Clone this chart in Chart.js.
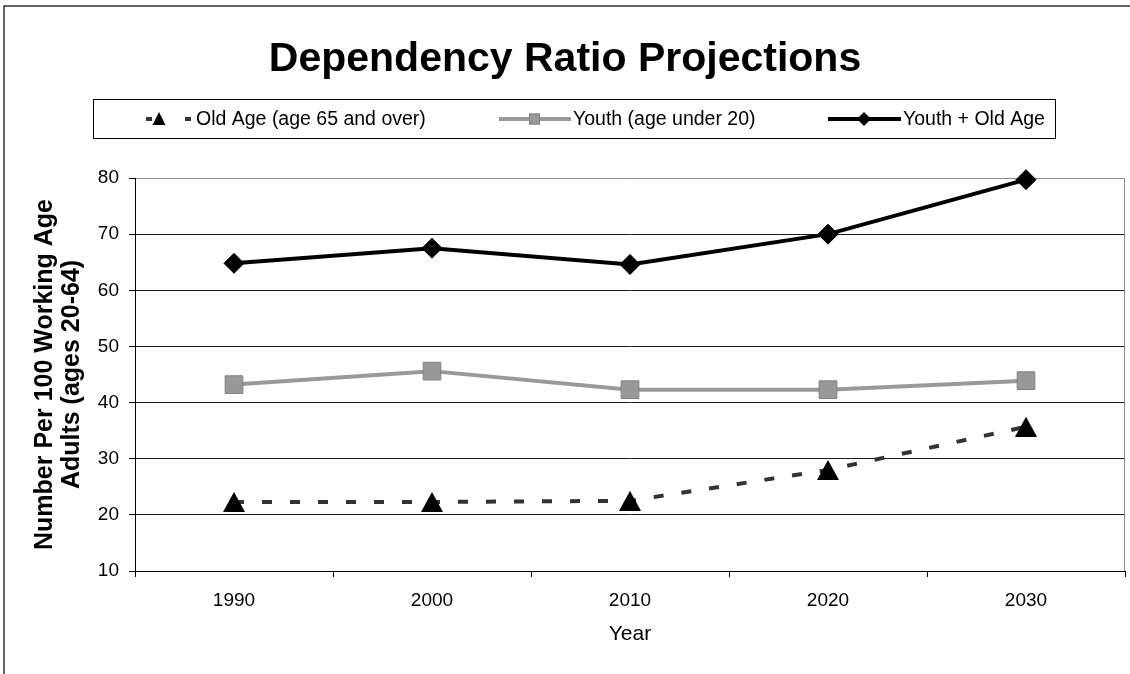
<!DOCTYPE html>
<html>
<head>
<meta charset="utf-8">
<script src="https://cdn.jsdelivr.net/npm/chart.js@4"></script>
<style>
  html, body { margin: 0; padding: 0; background: #fff; }
  #wrap { width: 1130px; height: 674px; }
</style>
</head>
<body>
<div id="wrap"><canvas id="chart" width="1130" height="674"></canvas></div>
<script>
// Dependency ratios per 100 working-age adults (ages 20-64)
const years = ['1990', '2000', '2010', '2020', '2030'];
const oldAge = [22.3, 22.3, 22.5, 28.0, 35.7];
const youth = [43.2, 45.6, 42.3, 42.3, 43.9];
const youthPlusOld = [64.8, 67.5, 64.6, 70.0, 79.7];
const seriesNames = ['Old Age (age 65 and over)', 'Youth (age under 20)', 'Youth + Old Age'];
const yMin = 10, yMax = 80, yStep = 10;

const FONT = '"Liberation Sans", Arial, Helvetica, sans-serif';

// Triangle marker centred on its bounding box
function triangleMarker(w, h, color) {
  const c = document.createElement('canvas');
  c.width = w; c.height = h;
  const g = c.getContext('2d');
  g.fillStyle = color;
  g.beginPath();
  g.moveTo(w / 2, 0);
  g.lineTo(w, h);
  g.lineTo(0, h);
  g.closePath();
  g.fill();
  return c;
}

// Frame, plot-area border and the boxed key
const decorations = {
  id: 'decorations',
  beforeDraw(chart) {
    const ctx = chart.ctx;
    ctx.save();
    ctx.fillStyle = '#fff';
    ctx.fillRect(0, 0, chart.width, chart.height);
    ctx.restore();
  },
  beforeDatasetsDraw(chart) {
    const { ctx, chartArea: a } = chart;
    ctx.save();
    ctx.strokeStyle = '#8c8c8c';
    ctx.lineWidth = 1;
    ctx.beginPath();
    ctx.moveTo(Math.round(a.right) - 0.5, a.top);
    ctx.lineTo(Math.round(a.right) - 0.5, a.bottom);
    ctx.stroke();
    ctx.restore();
  },
  afterDraw(chart) {
    const ctx = chart.ctx;
    ctx.save();
    // outer frame
    ctx.strokeStyle = '#333';
    ctx.lineWidth = 1.5;
    ctx.strokeRect(4, 6, chart.width + 20, chart.height + 20);

    // key box
    ctx.lineWidth = 1;
    ctx.strokeStyle = '#000';
    ctx.strokeRect(93.5, 99.5, 962, 39);

    const cy = 119;
    ctx.font = '19.5px ' + FONT;
    ctx.fillStyle = '#000';
    ctx.textBaseline = 'middle';
    ctx.textAlign = 'left';

    // Old Age: dashed dark line with triangle
    ctx.strokeStyle = '#333';
    ctx.lineWidth = 4;
    ctx.setLineDash([6, 33]);
    ctx.beginPath();
    ctx.moveTo(146, cy); ctx.lineTo(192, cy);
    ctx.stroke();
    ctx.setLineDash([]);
    ctx.fillStyle = '#000';
    ctx.beginPath();
    ctx.moveTo(159, cy - 7); ctx.lineTo(165.5, cy + 6); ctx.lineTo(152.5, cy + 6);
    ctx.closePath(); ctx.fill();
    ctx.fillText(seriesNames[0], 196, cy + 1);

    // Youth: grey line with square
    ctx.strokeStyle = '#999';
    ctx.beginPath();
    ctx.moveTo(499, cy); ctx.lineTo(571, cy);
    ctx.stroke();
    ctx.fillStyle = '#999';
    ctx.fillRect(529, cy - 5.5, 11, 11);
    ctx.strokeStyle = '#808080'; ctx.lineWidth = 1;
    ctx.strokeRect(529.5, cy - 5, 10, 10);
    ctx.fillStyle = '#000';
    ctx.fillText(seriesNames[1], 573, cy + 1);

    // Youth + Old Age: black line with diamond
    ctx.strokeStyle = '#000'; ctx.lineWidth = 4;
    ctx.beginPath();
    ctx.moveTo(828, cy); ctx.lineTo(901, cy);
    ctx.stroke();
    ctx.beginPath();
    ctx.moveTo(864, cy - 7); ctx.lineTo(871, cy); ctx.lineTo(864, cy + 7); ctx.lineTo(857, cy);
    ctx.closePath(); ctx.fill();
    ctx.fillText(seriesNames[2], 903, cy + 1);
    ctx.restore();
  }
};

new Chart(document.getElementById('chart'), {
  type: 'line',
  data: {
    labels: years,
    datasets: [
      {
        label: seriesNames[0],
        data: oldAge,
        borderColor: '#333',
        borderWidth: 4,
        borderDash: [10, 18],
        pointStyle: triangleMarker(22, 20, '#000'),
        pointRadius: 11,
        tension: 0,
        clip: false,
        order: 3
      },
      {
        label: seriesNames[1],
        data: youth,
        borderColor: '#999',
        borderWidth: 4,
        pointStyle: 'rect',
        pointRadius: 12.5,
        pointBackgroundColor: '#999',
        pointBorderColor: '#808080',
        pointBorderWidth: 1,
        tension: 0,
        clip: false,
        order: 2
      },
      {
        label: seriesNames[2],
        data: youthPlusOld,
        borderColor: '#000',
        borderWidth: 4,
        pointStyle: 'rectRot',
        pointRadius: 10,
        pointBackgroundColor: '#000',
        pointBorderColor: '#000',
        pointBorderWidth: 1,
        tension: 0,
        clip: false,
        order: 1
      }
    ]
  },
  options: {
    responsive: false,
    animation: false,
    devicePixelRatio: 1,
    layout: { autoPadding: false, padding: { left: 5, right: 5, top: 0, bottom: 0 } },
    plugins: {
      legend: { display: false },
      tooltip: { enabled: false },
      title: {
        display: true,
        text: 'Dependency Ratio Projections',
        color: '#000',
        font: { family: FONT, size: 41, weight: 'bold', lineHeight: 1.2 },
        padding: { top: 35, bottom: 93.8 }
      }
    },
    scales: {
      x: {
        offset: true,
        afterFit(scale) {
          scale.height = 103;
          scale.paddingLeft = 0;
          scale.paddingRight = 0;
        },
        grid: {
          display: true,
          offset: true,
          drawOnChartArea: false,
          drawTicks: true,
          tickLength: 6,
          color: '#000'
        },
        border: { display: true, color: '#000', width: 1 },
        ticks: {
          color: '#000',
          padding: 12,
          font: { family: FONT, size: 19, lineHeight: 1.2 }
        },
        title: {
          display: true,
          text: 'Year',
          color: '#000',
          font: { family: FONT, size: 21, lineHeight: 1.2 },
          padding: { top: 0, bottom: 27 }
        }
      },
      y: {
        min: yMin,
        max: yMax,
        afterFit(scale) { scale.width = 130; },
        grid: {
          color: (c) => (c.tick && c.tick.value === yMax ? '#8c8c8c' : '#1a1a1a'),
          lineWidth: 1,
          drawTicks: true,
          tickLength: 6,
          tickColor: '#000'
        },
        border: { display: true, color: '#000', width: 1 },
        ticks: {
          stepSize: yStep,
          color: '#000',
          padding: 10,
          font: { family: FONT, size: 19, lineHeight: 1.2 }
        },
        title: {
          display: true,
          text: ['Number Per 100 Working Age', 'Adults (ages 20-64)'],
          color: '#000',
          font: { family: FONT, size: 25, weight: 'bold', lineHeight: 1.08 },
          padding: { top: 26.5, bottom: 0 }
        }
      }
    }
  },
  plugins: [decorations]
});
</script>
</body>
</html>
